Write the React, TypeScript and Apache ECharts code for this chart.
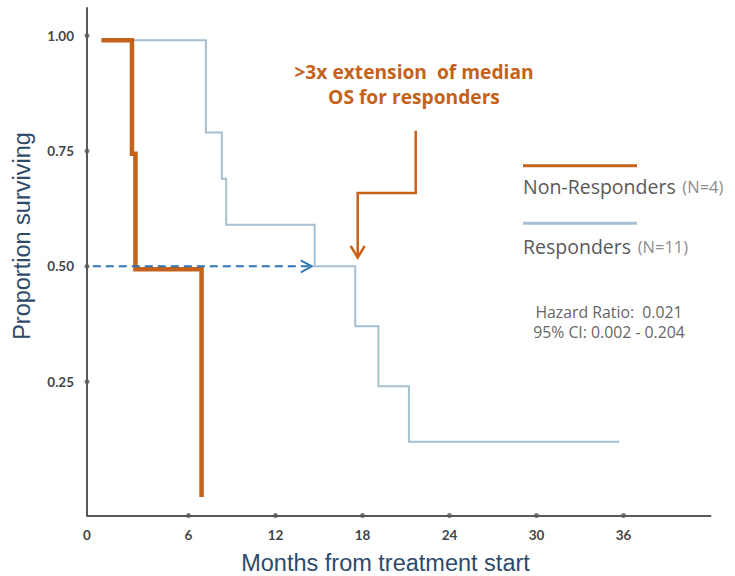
import React, { useEffect, useRef } from "react";
import * as echarts from "echarts";

// ---- Data ----
const xTickValues = [0, 6, 12, 18, 24, 30, 36];
const yTickValues = [0.25, 0.5, 0.75, 1.0];

const nonRespMonths = [0, 2.1, 2.34, 6.9];
const nonRespSurv = [0.99, 0.744, 0.494, 0];

const respMonths = [0, 7.2, 8.3, 8.6, 14.7, 17.5, 19.1, 21.2, 35.7];
const respSurv = [0.99, 0.79, 0.69, 0.59, 0.5, 0.37, 0.24, 0.12, 0.12];

const medianMonths = [-0.6, 14.5];
const medianSurv = [0.5, 0.5];

const seriesNames = ["Non-Responders", "Responders"];
const seriesCounts = ["(N=4)", "(N=11)"];
const annotationLines = [">3x extension  of median", "OS for responders"];
const hazardLines = ["Hazard Ratio:  0.021", "95% CI: 0.002 - 0.204"];
const xTitle = "Months from treatment start";
const yTitle = "Proportion surviving";

const X_MIN = -1;
const X_MAX = 42;
const Y_MIN = -0.04;
const Y_MAX = 1.06;

const ORANGE = "#c5621a";
const BLUE = "#a6bfd1";
const DASH_BLUE = "#2e75b6";
const AXIS = "#595959";
const TITLE = "#2e4a6b";

export default function App() {
  const ref = useRef<HTMLDivElement>(null);

  useEffect(() => {
    if (!ref.current) return;
    const chart = echarts.init(ref.current, undefined, { renderer: "svg" });

    const tickDots = xTickValues
      .filter((v) => v > 0)
      .map((v) => [v, Y_MIN])
      .concat(yTickValues.map((v) => [X_MIN, v]));

    const option: any = {
      animation: false,
      backgroundColor: "#ffffff",
      grid: { left: 87, right: 24.5, top: 8, bottom: 60.5 },
      xAxis: {
        type: "value",
        min: X_MIN,
        max: X_MAX,
        axisLine: { show: true, onZero: false, lineStyle: { color: AXIS, width: 2 } },
        axisTick: { show: false },
        splitLine: { show: false },
        axisLabel: {
          customValues: xTickValues.map((v) => (v === 0 ? X_MIN : v)),
          formatter: (v: number) => (v <= X_MIN ? "0" : String(v)),
          margin: 12,
          fontSize: 13.5,
          fontWeight: "bold",
          color: "#454545",
          fontFamily: "Lato",
        },
      },
      yAxis: {
        type: "value",
        min: Y_MIN,
        max: Y_MAX,
        axisLine: { show: true, onZero: false, lineStyle: { color: AXIS, width: 2 } },
        axisTick: { show: false },
        splitLine: { show: false },
        axisLabel: {
          customValues: yTickValues,
          formatter: (v: number) => v.toFixed(2),
          margin: 13,
          fontSize: 13.5,
          fontWeight: "bold",
          color: "#454545",
          fontFamily: "Lato",
        },
      },
      series: [
        {
          name: seriesNames[1],
          type: "line",
          step: "end",
          symbol: "none",
          silent: true,
          z: 2,
          lineStyle: { color: BLUE, width: 2, join: "miter" },
          data: respMonths.map((m, i) => [m, respSurv[i]]),
        },
        {
          name: seriesNames[0],
          type: "line",
          step: "end",
          symbol: "none",
          silent: true,
          z: 3,
          lineStyle: { color: ORANGE, width: 4.5, join: "miter" },
          data: nonRespMonths.map((m, i) => [m, nonRespSurv[i]]),
        },
        {
          name: "median",
          type: "line",
          silent: true,
          z: 4,
          showSymbol: true,
          lineStyle: { color: DASH_BLUE, width: 2, type: [8, 5] },
          itemStyle: { color: "rgba(0,0,0,0)", borderColor: DASH_BLUE, borderWidth: 2 },
          data: medianMonths.map((m, i) =>
            i === medianMonths.length - 1
              ? {
                  value: [m, medianSurv[i]],
                  symbol: "path://M0,0 L10,6 L0,12",
                  symbolSize: [11, 12],
                  symbolOffset: [-5.5, 0],
                }
              : { value: [m, medianSurv[i]], symbol: "none" }
          ),
        },
        {
          name: "ticks",
          type: "scatter",
          silent: true,
          clip: false,
          z: 5,
          symbolSize: 5,
          itemStyle: { color: AXIS },
          data: tickDots,
        },
      ],
      graphic: [
        {
          type: "text",
          x: 22,
          y: 236,
          rotation: Math.PI / 2,
          style: {
            text: yTitle,
            fontSize: 23.5,
            fontFamily: "Liberation Sans",
            fill: TITLE,
            textAlign: "center",
            textVerticalAlign: "middle",
          },
        },
        {
          type: "text",
          x: 385.5,
          y: 563,
          style: {
            text: xTitle,
            fontSize: 23.5,
            fontFamily: "Liberation Sans",
            fill: TITLE,
            textAlign: "center",
            textVerticalAlign: "middle",
          },
        },
        ...annotationLines.map((t, i) => ({
          type: "text",
          x: 414,
          y: 71.7 + i * 25,
          style: {
            text: t,
            fontSize: 19.2,
            fontWeight: "bold",
            fontFamily: "Open Sans",
            fill: ORANGE,
            textAlign: "center",
            textVerticalAlign: "middle",
          },
        })),
        {
          type: "polyline",
          shape: { points: [[415.7, 130.7], [415.7, 193], [357.7, 193], [357.7, 256.5]] },
          style: { stroke: ORANGE, lineWidth: 2.5, fill: "none" },
        },
        {
          type: "polyline",
          shape: { points: [[350.7, 246], [357.7, 257.5], [364.7, 246]] },
          style: { stroke: ORANGE, lineWidth: 2.5, fill: "none" },
        },
        {
          type: "line",
          shape: { x1: 523, y1: 165.7, x2: 637, y2: 165.7 },
          style: { stroke: ORANGE, lineWidth: 3 },
        },
        {
          type: "line",
          shape: { x1: 523, y1: 223.3, x2: 637, y2: 223.3 },
          style: { stroke: BLUE, lineWidth: 3 },
        },
        ...seriesNames.map((n, i) => ({
          type: "text",
          x: 523,
          y: 186 + i * 60,
          style: {
            text: `{a|${n}}  {b|${seriesCounts[i]}}`,
            textVerticalAlign: "middle",
            rich: {
              a: { fontSize: 19.5, fontFamily: "Open Sans", fill: "#595959" },
              b: { fontSize: 16.5, fontFamily: "Open Sans", fill: "#8c8c8c" },
            },
          },
        })),
        ...hazardLines.map((t, i) => ({
          type: "text",
          x: 609,
          y: 312 + i * 20,
          style: {
            text: t,
            fontSize: 15.8,
            fontFamily: "Open Sans",
            fill: "#666666",
            textAlign: "center",
            textVerticalAlign: "middle",
          },
        })),
      ],
    };

    chart.setOption(option);
    return () => chart.dispose();
  }, []);

  return (
    <div
      ref={ref}
      style={{ position: "fixed", left: 0, top: 0, width: 735, height: 576, background: "#fff" }}
    />
  );
}
